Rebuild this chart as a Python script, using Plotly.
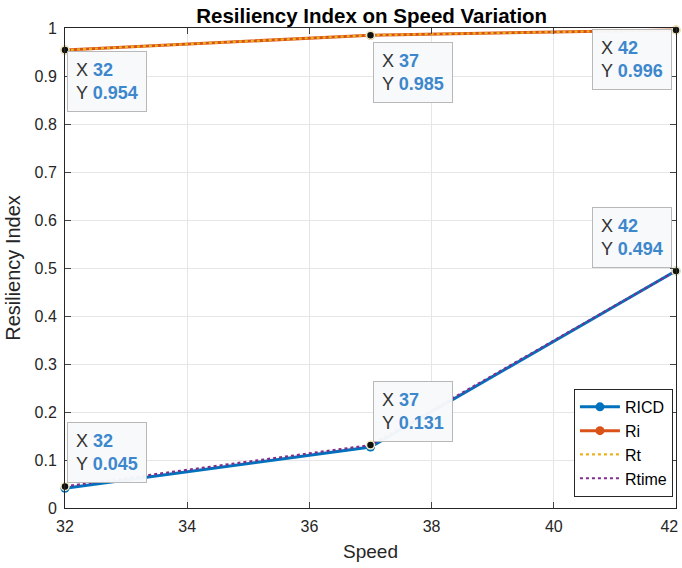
import plotly.graph_objects as go

speed = [32, 37, 42]
ricd = [0.041, 0.127, 0.494]
ri = [0.954, 0.985, 0.996]
rt = [0.954, 0.985, 0.996]
rtime = [0.045, 0.131, 0.494]

tip_x = [32, 37, 42, 32, 37, 42]
tip_y = [0.954, 0.985, 0.996, 0.045, 0.131, 0.494]
tip_label_y = ["0.954", "0.985", "0.996", "0.045", "0.131", "0.494"]
# placement of each datatip box: (xanchor, yanchor, xshift, yshift)
tip_place = [("left", "top", 2, -1), ("left", "top", 2, -7), ("right", "top", -4, 1),
             ("left", "bottom", 2, 3), ("left", "bottom", 2, 3), ("right", "bottom", -4, 3)]

xticks = [32, 34, 36, 38, 40, 42]
xtick_text = ["32", "34", "36", "38", "40", "42\u00a0\u00a0\u00a0"]
yticks = [0, 0.1, 0.2, 0.3, 0.4, 0.5, 0.6, 0.7, 0.8, 0.9, 1]
ytick_text = ["0", "0.1", "0.2", "0.3", "0.4", "0.5", "0.6", "0.7", "0.8", "0.9", "1"]

font = "Liberation Sans, Arial, sans-serif"

fig = go.Figure()
fig.add_trace(go.Scatter(x=speed, y=ricd, name="RICD", mode="lines+markers",
                         line=dict(color="#0072BD", width=3),
                         marker=dict(color="#0072BD", size=9), cliponaxis=False))
fig.add_trace(go.Scatter(x=speed, y=ri, name="Ri", mode="lines+markers",
                         line=dict(color="#D95319", width=3),
                         marker=dict(color="#D95319", size=9), cliponaxis=False))
fig.add_trace(go.Scatter(x=speed, y=rt, name="Rt", mode="lines",
                         line=dict(color="#EDB120", width=2.2, dash="dot")))
fig.add_trace(go.Scatter(x=speed, y=rtime, name="Rtime", mode="lines",
                         line=dict(color="#7E2F8E", width=2.2, dash="dot")))
fig.add_trace(go.Scatter(x=tip_x, y=tip_y, mode="markers", showlegend=False,
                         marker=dict(color="#111111", size=8,
                                     line=dict(color="#f3f0c8", width=1.5)),
                         cliponaxis=False))

for xv, yv, lab, (xa, ya, xs, ys) in zip(tip_x, tip_y, tip_label_y, tip_place):
    fig.add_annotation(
        x=xv, y=yv, xref="x", yref="y", showarrow=False,
        xanchor=xa, yanchor=ya, xshift=xs, yshift=ys, align="left",
        text=(f"X <b><span style='color:#3d87cc'>{xv}</span></b><br>"
              f"Y <b><span style='color:#3d87cc'>{lab}</span></b>"),
        font=dict(family=font, size=18, color="#333333"),
        bgcolor="rgba(248,249,251,0.97)", bordercolor="#b8b8b8", borderwidth=1,
        borderpad=8,
    )

fig.update_layout(
    width=682, height=568,
    margin=dict(l=65, r=6, t=28, b=60),
    paper_bgcolor="white", plot_bgcolor="white",
    font=dict(family=font, size=16, color="#262626"),
    title=dict(text="<b>Resiliency Index on Speed Variation</b>", x=0.545, xanchor="center",
               y=0.972, yanchor="middle", font=dict(size=20.5, color="#000000")),
    showlegend=True,
    legend=dict(x=0.995, y=0.023, xanchor="right", yanchor="bottom",
                bgcolor="white", bordercolor="#262626", borderwidth=1,
                font=dict(size=16, color="#000000"), tracegroupgap=0,
                itemwidth=40),
)
fig.update_xaxes(range=[32, 42], tickvals=xticks, ticktext=xtick_text, ticks="inside", ticklen=6,
                 showline=True, linecolor="#262626", linewidth=1, mirror="ticks",
                 showgrid=True, gridcolor="#e6e6e6", zeroline=False,
                 ticklabelstandoff=4, ticklabeloverflow="allow", automargin=False,
                 title=dict(text="Speed", font=dict(size=19), standoff=10),
                 tickfont=dict(size=16))
fig.update_yaxes(range=[0, 1], tickvals=yticks, ticktext=ytick_text, ticks="inside", ticklen=6,
                 showline=True, linecolor="#262626", linewidth=1, mirror="ticks",
                 showgrid=True, gridcolor="#e6e6e6", zeroline=False,
                 ticklabelstandoff=4, ticklabeloverflow="allow", automargin=False,
                 title=dict(text="Resiliency Index", font=dict(size=20), standoff=8),
                 tickfont=dict(size=16))

fig.write_html("out.html")
